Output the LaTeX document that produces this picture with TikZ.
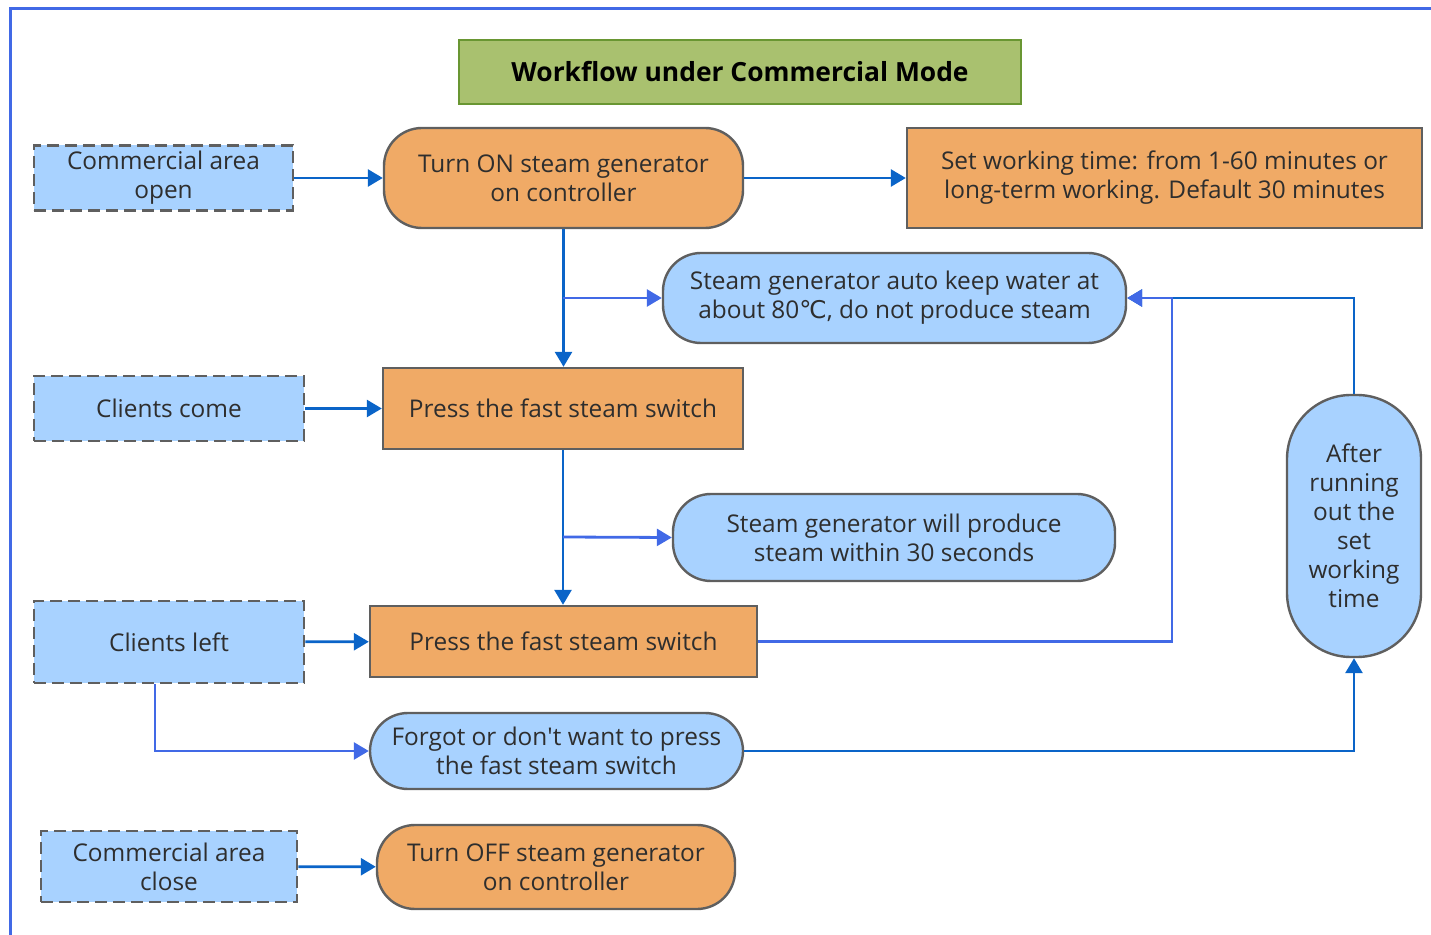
\documentclass[tikz,border=0pt]{standalone}
\usepackage{fontspec}
\setmainfont{Open Sans}
\newfontfamily\signfont{DejaVu Sans}
\usetikzlibrary{arrows.meta}

\definecolor{wireblue}{RGB}{10,100,200}
\definecolor{loopblue}{RGB}{65,105,230}
\definecolor{skyfill}{RGB}{168,210,255}
\definecolor{tanfill}{RGB}{240,170,102}
\definecolor{olivefill}{RGB}{169,193,111}
\definecolor{olivedraw}{RGB}{105,150,50}
\definecolor{edgegray}{RGB}{95,95,95}

\tikzset{
    txt/.style={font=\fontsize{12.2}{14.5}\selectfont, text=black!82, align=center, inner sep=0pt},
    trigger/.style={txt, draw=edgegray, dash pattern=on 6pt off 3pt, line width=1.4pt, fill=skyfill},
    action/.style={txt, draw=edgegray, line width=1.2pt, fill=tanfill},
    pill/.style={txt, draw=edgegray, line width=1.2pt, rounded corners=19pt},
    flow/.style={wireblue, line width=1.4pt, -{Triangle[length=7.5pt,width=8.5pt]}},
    loopflow/.style={loopblue, line width=1.4pt, -{Triangle[length=7.5pt,width=8.5pt]}},
}

\begin{document}
\begin{tikzpicture}[x=0.5pt, y=-0.5pt]
    \useasboundingbox (0,0) rectangle (1431,935);
    \clip (0,0) rectangle (1431,935);

    % outer frame, runs off the page on the right and bottom
    \draw[loopblue, line width=1.5pt] (10,9) rectangle (1450,960);

    \node[txt, draw=olivedraw, fill=olivefill, line width=1.2pt, minimum width=281pt, minimum height=32pt,
          font=\fontsize{13.2}{15}\selectfont\bfseries, text=black] (title) at (740,72) {Workflow under Commercial Mode};

    % left column: events
    \node[trigger, minimum width=129.5pt, minimum height=32.5pt] (open) at (163.5,178) {Commercial area\\open};
    \node[trigger, minimum width=135pt, minimum height=32.5pt] (come) at (169,408.5) {Clients come};
    \node[trigger, minimum width=135pt, minimum height=41pt] (left) at (169,642) {Clients left};
    \node[trigger, minimum width=128pt, minimum height=35.5pt] (close) at (169,866.5) {Commercial area\\close};

    % middle column: operations
    \node[pill, fill=tanfill, minimum width=179.5pt, minimum height=50pt] (turnon) at (563.5,178) {Turn ON steam generator\\on controller};
    \node[action, minimum width=180pt, minimum height=40.5pt] (press1) at (563,408.5) {Press the fast steam switch};
    \node[action, minimum width=193.5pt, minimum height=35.5pt] (press2) at (563.5,641.5) {Press the fast steam switch};
    \node[pill, fill=skyfill, minimum width=186.5pt, minimum height=38pt] (forgot) at (556.5,751) {Forgot or don\textquotesingle t want to press\\the fast steam switch};
    \node[pill, fill=tanfill, minimum width=179pt, minimum height=42pt] (turnoff) at (556,867) {Turn OFF steam generator\\on controller};

    % right side: results
    \node[action, minimum width=257.5pt, minimum height=50pt] (settime) at (1164.5,178) {Set working time: from 1-60 minutes or\\long-term working. Default 30 minutes};
    \node[pill, fill=skyfill, minimum width=231.5pt, minimum height=45pt] (keepwarm) at (894.5,298) {Steam generator auto keep water at\\about 80{\signfont ℃}, do not produce steam};
    \node[pill, fill=skyfill, minimum width=221pt, minimum height=43.5pt] (produce) at (894,537.5) {Steam generator will produce\\steam within 30 seconds};
    \node[pill, fill=skyfill, rounded corners=32pt, minimum width=67pt, minimum height=131pt] (timeout) at (1354,526) {After\\running\\out the\\set\\working\\time};

    \coordinate (tap1) at (563,298);
    \coordinate (tap2) at (563,537);
    \coordinate (back) at (1172,298);

    \draw[flow] (open) -- (turnon);
    \draw[flow] (turnon) -- (settime);
    \draw[flow] (turnon.south) -- (turnon.south |- press1.north);
    \draw[loopflow] (tap1) -- (keepwarm.west);
    \draw[flow] (come) -- (press1);
    \draw[flow] (press1.south) -- (press1.south |- press2.north);
    \draw[loopflow] (tap2) -- (produce.west);
    \draw[flow] (left) -- (press2);
    \draw[flow] (timeout.north) |- (keepwarm.east);
    \draw[loopflow] (press2.east) -| (back) -- (keepwarm.east);
    \draw[loopflow] ([xshift=-7pt]left.south) |- (forgot.west);
    \draw[flow] (forgot.east) -| (timeout.south);
    \draw[flow] (close) -- (turnoff);
\end{tikzpicture}
\end{document}
